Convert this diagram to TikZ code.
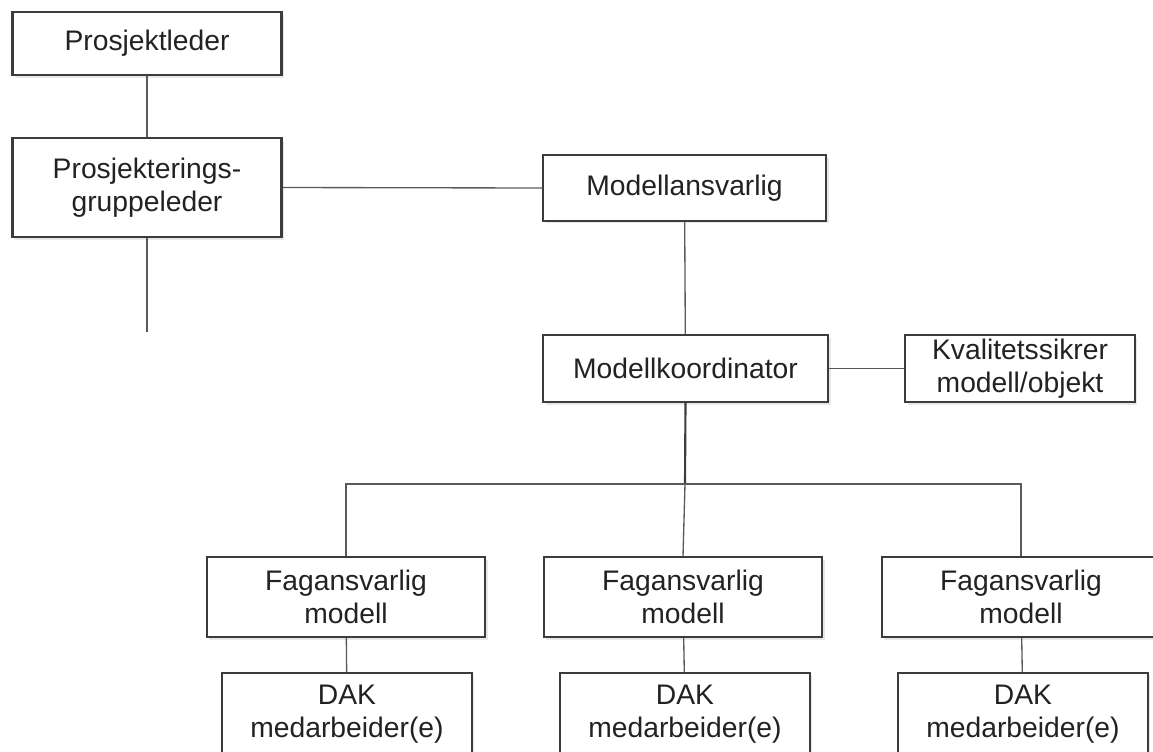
\documentclass[tikz,border=0pt]{standalone}
\usepackage{fontspec}
\setmainfont{Liberation Sans}
\usepackage{tikz}
\usetikzlibrary{shadows}
\definecolor{boxgray}{HTML}{3C3C3C}
\definecolor{linegray}{HTML}{5A5A5A}
\definecolor{textgray}{HTML}{222222}
\tikzset{
  rolebox/.style={draw=boxgray, line width=1.3pt, fill=white, align=center,
    text=textgray, font=\fontsize{21.2}{24.5}\selectfont, inner sep=0pt,
    drop shadow={opacity=0.18, shadow xshift=2pt, shadow yshift=-2pt}},
  headbox/.style={rolebox, line width=1.9pt},
  link/.style={draw=linegray, line width=1pt}
}

\begin{document}
\begin{tikzpicture}[x=0.75pt, y=-0.75pt]
      \useasboundingbox (0,0) rectangle (1153,751);
      \clip (0,0) rectangle (1153,751);

      \node [headbox, minimum width=202pt, minimum height=47pt] (pl) at (147,43.5) {Prosjektleder};
      \node [headbox, minimum width=202pt, minimum height=74pt] (pg) at (147,187.5) {Prosjekterings-\\gruppeleder};
      \coordinate (pgend) at (147,332);

      \node [rolebox, minimum width=212pt, minimum height=49pt] (ma) at (684.5,188) {Modellansvarlig};
      \node [rolebox, minimum width=214pt, minimum height=50pt] (mk) at (685.5,368.5) {Modellkoordinator};
      \node [rolebox, minimum width=172pt, minimum height=50pt] (kv) at (1020,368.5) {Kvalitetssikrer\\modell/objekt};

      \node [rolebox, minimum width=209pt, minimum height=60pt] (f1) at (346,597) {Fagansvarlig\\modell};
      \node [rolebox, minimum width=209pt, minimum height=60pt] (f2) at (683,597) {Fagansvarlig\\modell};
      \node [rolebox, minimum width=209pt, minimum height=60pt] (f3) at (1021,597) {Fagansvarlig\\modell};

      \node [rolebox, minimum width=187pt, minimum height=62pt] (d1) at (347,714) {DAK\\medarbeider(e)};
      \node [rolebox, minimum width=187pt, minimum height=62pt] (d2) at (685,714) {DAK\\medarbeider(e)};
      \node [rolebox, minimum width=187pt, minimum height=62pt] (d3) at (1023,714) {DAK\\medarbeider(e)};

      \coordinate (bus) at (685,484);

      \draw [link] (pl) -- (pg);
      \draw [link] (pg) -- (pgend);
      \draw [link] (pg.east) -- (ma.west);
      \draw [link] (ma) -- (mk);
      \draw [link] (mk.east) -- (kv.west);
      \draw [link, line width=1.6pt, draw=boxgray] (mk.south) -- (bus);
      \draw [link] (f1.north) |- (bus) -| (f3.north);
      \draw [link] (bus) -- (f2.north);
      \draw [link] (f1) -- (d1);
      \draw [link] (f2) -- (d2);
      \draw [link] (f3) -- (d3);
\end{tikzpicture}
\end{document}
